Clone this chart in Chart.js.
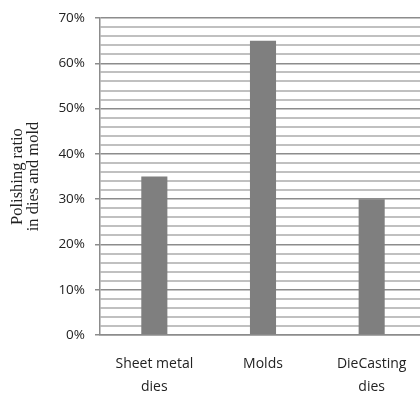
<!DOCTYPE html>
<html>
<head>
<meta charset="utf-8">
<script src="https://cdn.jsdelivr.net/npm/chart.js@4"></script>
<style>
  html, body { margin: 0; padding: 0; background: #fff; overflow: hidden; }
  #wrap { width: 432px; height: 394px; position: relative; }
</style>
</head>
<body>
<div id="wrap"><canvas id="c"></canvas></div>
<script>
// Share of polishing work by die / mold type (percent)
const categories = [['Sheet metal', 'dies'], 'Molds', ['DieCasting', 'dies']];
const polishingRatio = [35, 65, 30];
const yTickLabels = ['0%', '10%', '20%', '30%', '40%', '50%', '60%', '70%'];
const yAxisTitle = ['Polishing ratio', 'in dies and mold'];

const MAJOR = '#8c8c8c';
const MINOR = '#c0c0c0';

new Chart(document.getElementById('c'), {
  type: 'bar',
  data: {
    labels: categories,
    datasets: [{
      data: polishingRatio,
      backgroundColor: '#7f7f7f',
      borderWidth: 0,
      barPercentage: 0.24,
      categoryPercentage: 1
    }]
  },
  options: {
    responsive: true,
    maintainAspectRatio: false,
    animation: false,
    layout: { padding: { top: 15, right: 6, bottom: 0, left: 10 } },
    plugins: { legend: { display: false }, tooltip: { enabled: false } },
    scales: {
      x: {
        grid: { display: false, drawTicks: false },
        border: { display: true, color: MAJOR, width: 1.5 },
        ticks: {
          color: '#222',
          font: { family: 'Open Sans', size: 14, lineHeight: 1.6 },
          padding: 18,
          maxRotation: 0,
          autoSkip: false
        },
        afterFit: s => { s.height = 59; }
      },
      y: {
        min: 0,
        max: 70,
        ticks: {
          stepSize: 2,
          autoSkip: false,
          color: '#222',
          font: { family: 'Open Sans', size: 13.5 },
          padding: 10,
          callback: v => (v % 10 === 0 ? yTickLabels[v / 10] : '')
        },
        grid: {
          color: ctx => (ctx.tick && ctx.tick.value % 10 === 0 ? MAJOR : MINOR),
          lineWidth: ctx => (ctx.tick && ctx.tick.value % 10 === 0 ? 1.5 : 2),
          tickColor: ctx => (ctx.tick && ctx.tick.value % 10 === 0 ? MAJOR : 'rgba(0,0,0,0)'),
          tickLength: 5
        },
        border: { display: true, color: MAJOR, width: 1.5 },
        title: {
          display: true,
          text: yAxisTitle,
          color: '#222',
          font: { family: 'Liberation Serif', size: 16.5, lineHeight: 0.95 },
          padding: { top: 0, bottom: 6 }
        },
        afterFit: s => { s.width = 90; }
      }
    }
  }
});
</script>
</body>
</html>
